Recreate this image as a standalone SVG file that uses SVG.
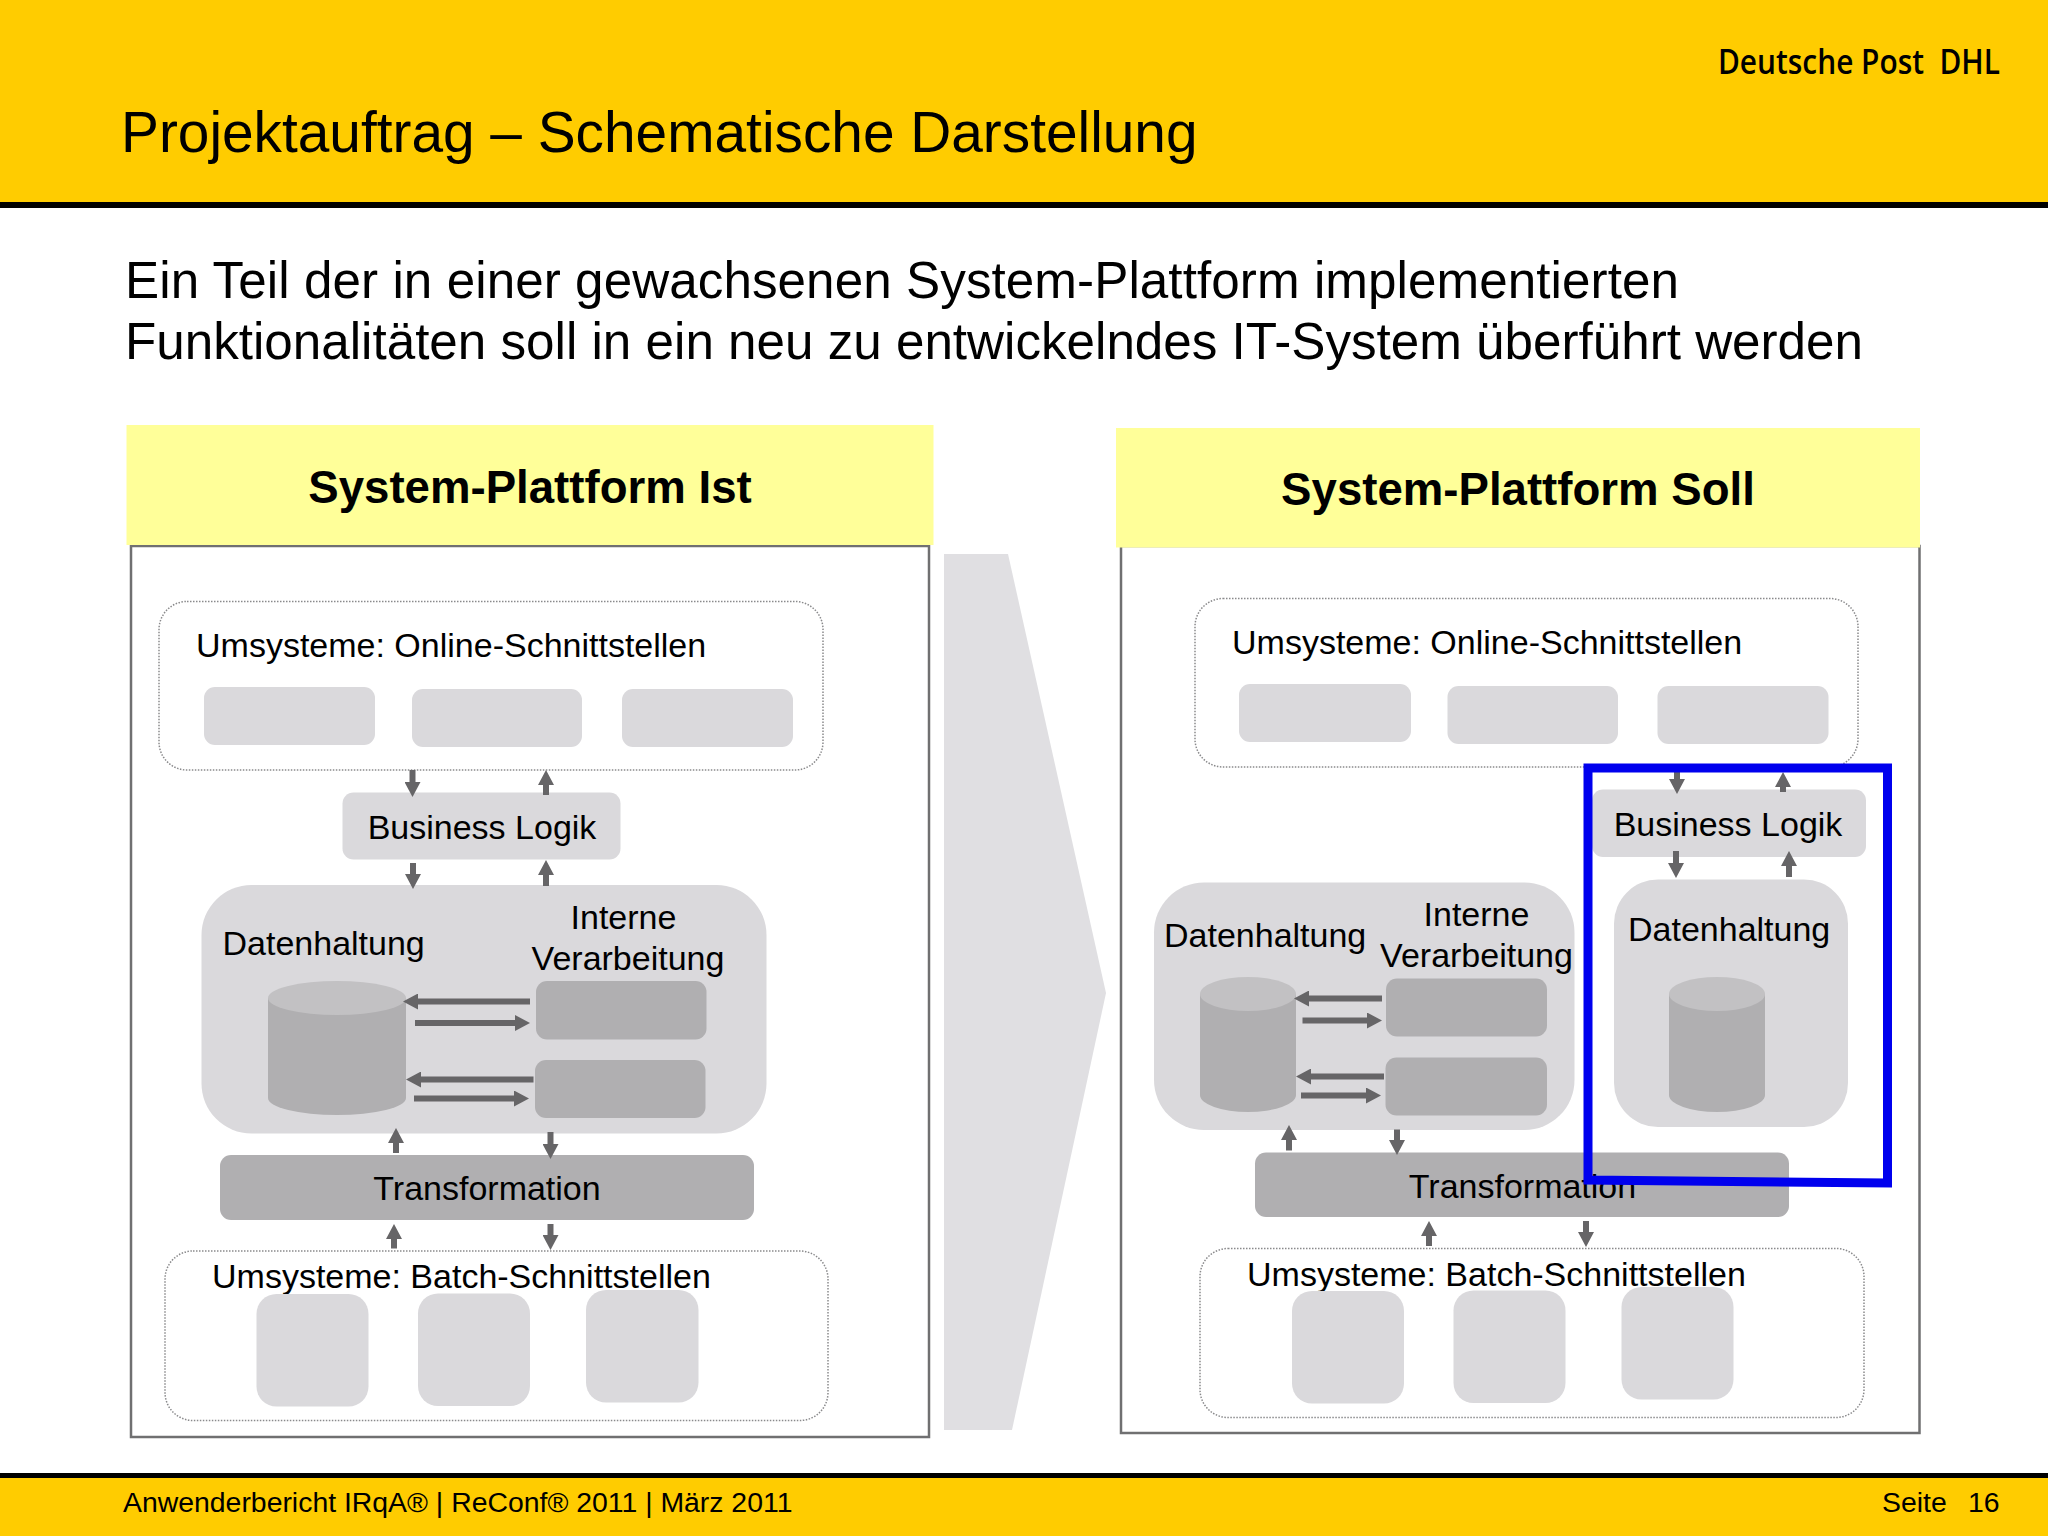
<svg xmlns="http://www.w3.org/2000/svg" width="2048" height="1536" viewBox="0 0 2048 1536">
<style>
text{font-family:"Liberation Sans",Arial,sans-serif;fill:#000}
.t34{font-size:34px}
.mid{text-anchor:middle}
.hd{font-size:45.6px;font-weight:700;text-anchor:middle}
.sub{font-size:51.2px}
.foot{font-size:28.4px}
.hdr{fill:#ffff99}
.frame{fill:#fff;stroke:#707071;stroke-width:2.5}
.dot{fill:#fff;stroke:#8a8a8c;stroke-width:1.5;stroke-dasharray:1.500 1.500}
.lt{fill:#dad9dc}
.dk{fill:#b0afb1}
.cap{fill:#c2c1c3}
.conn line{stroke:#666567;stroke-width:6;fill:none;marker-end:url(#ah)}
</style>
<defs>
<marker id="ah" markerUnits="userSpaceOnUse" markerWidth="15" markerHeight="16" refX="5" refY="8" orient="auto"><path d="M0,0L15,8L0,16Z" fill="#666567"/></marker>
</defs>
<rect width="2048" height="1536" fill="#fff"/>
<g id="top-band">
<rect width="2048" height="203" fill="#ffcc00"/>
<rect y="202" width="2048" height="6" fill="#000"/>
<text x="121" y="152" font-size="56.800">Projektauftrag – Schematische Darstellung</text>
<text x="1718" y="74" style="font-family:'Open Sans',sans-serif;font-weight:600;white-space:pre" font-size="35" textLength="282" lengthAdjust="spacingAndGlyphs" fill="#111">Deutsche Post  DHL</text>
</g>
<g id="intro">
<text class="sub" x="125" y="298" textLength="1554">Ein Teil der in einer gewachsenen System-Plattform implementierten</text>
<text class="sub" x="125" y="359" textLength="1738">Funktionalitäten soll in ein neu zu entwickelndes IT-System überführt werden</text>
</g>
<polygon id="transition-arrow" points="944,554 1008,554 1106,993 1012,1430 944,1430" fill="#e0dfe2"/>

<g id="ist-frame">
<rect class="frame" x="131" y="546" width="798" height="891"/>
<rect class="hdr" x="126.500" y="425" width="807" height="120"/>
<text class="hd" x="530" y="503">System-Plattform Ist</text>
</g>
<g id="ist-online">
<rect class="dot" x="159" y="601.500" width="664" height="168.500" rx="28"/>
<text class="t34" x="196" y="657">Umsysteme: Online-Schnittstellen</text>
<rect class="lt" x="204" y="687" width="171" height="58" rx="11"/>
<rect class="lt" x="412" y="689" width="170" height="58" rx="11"/>
<rect class="lt" x="622" y="689" width="171" height="58" rx="11"/>
</g>
<g id="ist-logik">
<rect class="lt" x="342.500" y="792.500" width="278" height="67" rx="11"/>
<text class="t34 mid" x="482" y="839">Business Logik</text>
</g>
<g id="ist-daten">
<rect class="lt" x="201.500" y="885" width="565" height="248.500" rx="50"/>
<text class="t34" x="222.500" y="955">Datenhaltung</text>
<text class="t34 mid" x="623.500" y="929">Interne</text>
<text class="t34 mid" x="628" y="970">Verarbeitung</text>
<path class="dk" d="M268,998V1098A69,17 0 0 0 406,1098V998Z"/>
<ellipse class="cap" cx="337" cy="998" rx="69" ry="17"/>
<rect class="dk" x="536" y="981" width="170.500" height="58.500" rx="11"/>
<rect class="dk" x="535" y="1060" width="170.500" height="58" rx="11"/>
</g>
<g id="ist-transformation">
<rect class="dk" x="220" y="1155" width="534" height="65" rx="11"/>
<text class="t34 mid" x="487" y="1200">Transformation</text>
</g>
<g id="ist-batch">
<rect class="dot" x="165" y="1251" width="663" height="169.500" rx="28"/>
<text class="t34" x="212" y="1288">Umsysteme: Batch-Schnittstellen</text>
<rect class="lt" x="256.500" y="1294" width="112" height="112.500" rx="20"/>
<rect class="lt" x="418" y="1293.500" width="112" height="112.500" rx="20"/>
<rect class="lt" x="586" y="1290" width="112.500" height="112.500" rx="20"/>
</g>

<g id="soll-frame">
<rect class="frame" x="1121" y="546" width="798.500" height="887"/>
<rect class="hdr" x="1116" y="428" width="804" height="119.500"/>
<text class="hd" x="1518" y="505">System-Plattform Soll</text>
</g>
<g id="soll-online">
<rect class="dot" x="1195" y="598.500" width="663" height="168.500" rx="28"/>
<text class="t34" x="1232" y="654">Umsysteme: Online-Schnittstellen</text>
<rect class="lt" x="1239" y="684" width="172" height="58" rx="11"/>
<rect class="lt" x="1447.500" y="686" width="170.500" height="58" rx="11"/>
<rect class="lt" x="1657.500" y="686" width="171" height="58" rx="11"/>
</g>
<g id="soll-logik">
<rect class="lt" x="1592" y="789.500" width="274" height="67.500" rx="11"/>
<text class="t34 mid" x="1728" y="836">Business Logik</text>
</g>
<g id="soll-daten-links">
<rect class="lt" x="1154" y="882.500" width="420.500" height="247.500" rx="50"/>
<text class="t34" x="1164" y="947">Datenhaltung</text>
<text class="t34 mid" x="1476.500" y="926">Interne</text>
<text class="t34 mid" x="1476.500" y="967">Verarbeitung</text>
<path class="dk" d="M1200,994V1095A48,17 0 0 0 1296,1095V994Z"/>
<ellipse class="cap" cx="1248" cy="994" rx="48" ry="17"/>
<rect class="dk" x="1386" y="978.500" width="161" height="58" rx="11"/>
<rect class="dk" x="1385.500" y="1057.500" width="161.500" height="58" rx="11"/>
</g>
<g id="soll-daten-rechts">
<rect class="lt" x="1614" y="879.500" width="234" height="247.500" rx="44"/>
<text class="t34" x="1628" y="941">Datenhaltung</text>
<path class="dk" d="M1669,994V1095A48,17 0 0 0 1765,1095V994Z"/>
<ellipse class="cap" cx="1717" cy="994" rx="48" ry="17"/>
</g>
<g id="soll-transformation">
<rect class="dk" x="1255" y="1152.500" width="534" height="64.500" rx="11"/>
<text class="t34 mid" x="1522.500" y="1197.500">Transformation</text>
</g>
<g id="soll-batch">
<rect class="dot" x="1200" y="1248.500" width="664" height="169" rx="28"/>
<text class="t34" x="1247" y="1285.500">Umsysteme: Batch-Schnittstellen</text>
<rect class="lt" x="1292" y="1291" width="112" height="112.500" rx="20"/>
<rect class="lt" x="1453.500" y="1290.500" width="112" height="112.500" rx="20"/>
<rect class="lt" x="1621.500" y="1287" width="112" height="112.500" rx="20"/>
</g>

<g id="connectors" class="conn">
<line x1="412.500" y1="770" x2="412.500" y2="787"/>
<line x1="546" y1="795" x2="546" y2="780"/>
<line x1="413" y1="863" x2="413" y2="879"/>
<line x1="546" y1="886" x2="546" y2="870"/>
<line x1="530" y1="1001.500" x2="413" y2="1001.500"/>
<line x1="415" y1="1023" x2="520" y2="1023"/>
<line x1="533.500" y1="1079.500" x2="416" y2="1079.500"/>
<line x1="414" y1="1098.500" x2="519" y2="1098.500"/>
<line x1="396" y1="1153" x2="396" y2="1138"/>
<line x1="550.500" y1="1132" x2="550.500" y2="1149"/>
<line x1="394" y1="1248.500" x2="394" y2="1234"/>
<line x1="550.500" y1="1224" x2="550.500" y2="1240"/>
<line x1="1677" y1="772" x2="1677" y2="784"/>
<line x1="1783" y1="792" x2="1783" y2="782"/>
<line x1="1676" y1="851" x2="1676" y2="868"/>
<line x1="1789" y1="877" x2="1789" y2="861"/>
<line x1="1382" y1="998.500" x2="1304" y2="998.500"/>
<line x1="1302.500" y1="1020.500" x2="1372" y2="1020.500"/>
<line x1="1384" y1="1076.500" x2="1306" y2="1076.500"/>
<line x1="1301" y1="1095.500" x2="1371" y2="1095.500"/>
<line x1="1289" y1="1150.500" x2="1289" y2="1135"/>
<line x1="1397" y1="1129.500" x2="1397" y2="1145"/>
<line x1="1429" y1="1246" x2="1429" y2="1231"/>
<line x1="1586" y1="1221" x2="1586" y2="1237"/>
</g>
<path id="highlight" d="M1588,768H1887.500V1183L1588,1180Z" fill="none" stroke="#0000ee" stroke-width="9"/>
<g id="footer">
<rect y="1473" width="2048" height="63" fill="#ffcc00"/>
<rect y="1473" width="2048" height="5" fill="#000"/>
<text class="foot" x="123" y="1512">Anwenderbericht IRqA® | ReConf® 2011 | März 2011</text>
<text class="foot" x="1882" y="1512">Seite</text>
<text class="foot" x="1968" y="1512">16</text>
</g>
</svg>
